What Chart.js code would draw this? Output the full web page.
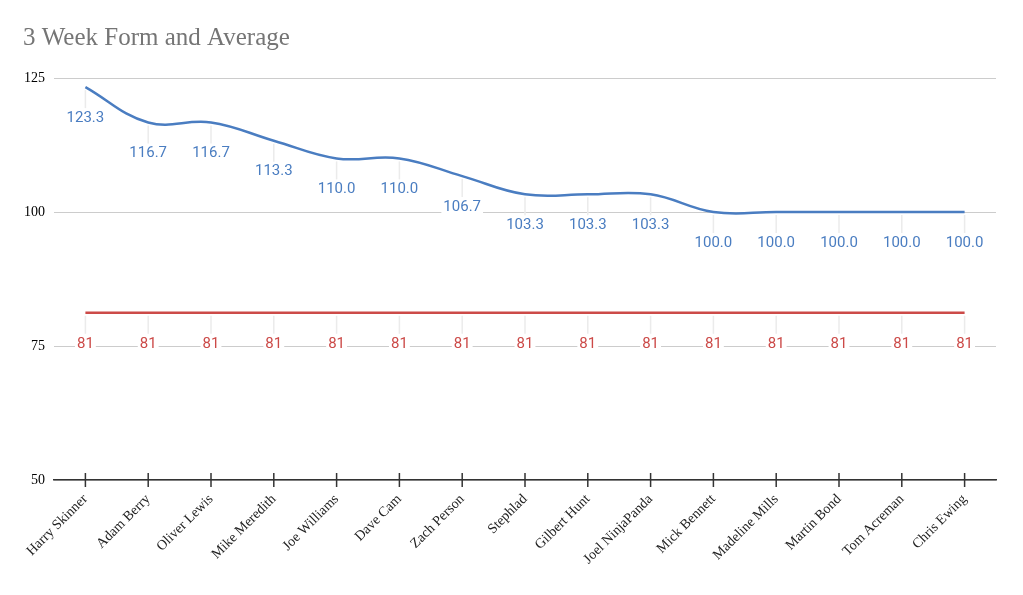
<!DOCTYPE html>
<html>
<head>
<meta charset="utf-8">
<script src="https://cdn.jsdelivr.net/npm/chart.js@4/dist/chart.umd.min.js"></script>
<style>
  html, body { margin: 0; padding: 0; background: #fff; }
  #wrap { width: 1023px; height: 595px; }
</style>
</head>
<body>
<div id="wrap"><canvas id="formChart"></canvas></div>
<script>
var players = ['Harry Skinner', 'Adam Berry', 'Oliver Lewis', 'Mike Meredith', 'Joe Williams',
  'Dave Cam', 'Zach Person', 'Stephlad', 'Gilbert Hunt', 'Joel NinjaPanda', 'Mick Bennett',
  'Madeline Mills', 'Martin Bond', 'Tom Acreman', 'Chris Ewing'];
var formValues = [123.3, 116.7, 116.7, 113.3, 110.0, 110.0, 106.7, 103.3, 103.3, 103.3,
  100.0, 100.0, 100.0, 100.0, 100.0];
var averageValues = [81.2, 81.2, 81.2, 81.2, 81.2, 81.2, 81.2, 81.2, 81.2, 81.2,
  81.2, 81.2, 81.2, 81.2, 81.2];
var yTicks = [50, 75, 100, 125];

var blue = '#4a7dc1';
var red = '#cc4a48';

// labels under each point with a short leader line, like the sheets export
var pointLabels = {
  id: 'pointLabels',
  afterDatasetsDraw: function(chart) {
    var ctx = chart.ctx;
    ctx.save();
    ctx.font = '15px Roboto';
    ctx.textAlign = 'center';
    ctx.textBaseline = 'middle';
    chart.data.datasets.forEach(function(ds, i) {
      var meta = chart.getDatasetMeta(i);
      meta.data.forEach(function(pt, j) {
        var txt = ds.labelFormat(ds.data[j]);
        ctx.strokeStyle = '#ebebeb';
        ctx.lineWidth = 1.5;
        ctx.beginPath();
        ctx.moveTo(pt.x, pt.y + 3);
        ctx.lineTo(pt.x, pt.y + 21);
        ctx.stroke();
        var w = ctx.measureText(txt).width;
        ctx.fillStyle = '#fff';
        ctx.fillRect(pt.x - w / 2 - 2, pt.y + 23, w + 4, 17);
        ctx.fillStyle = ds.borderColor;
        ctx.fillText(txt, pt.x, pt.y + 31);
      });
    });
    ctx.restore();
  }
};

// tick marks crossing the x axis line
var crossTicks = {
  id: 'crossTicks',
  afterDraw: function(chart) {
    var ctx = chart.ctx;
    var x = chart.scales.x;
    var y0 = chart.scales.y.getPixelForValue(50);
    ctx.save();
    ctx.strokeStyle = '#333';
    ctx.lineWidth = 1.5;
    for (var i = 0; i < players.length; i++) {
      var px = x.getPixelForValue(i);
      ctx.beginPath();
      ctx.moveTo(px, y0 - 7);
      ctx.lineTo(px, y0 + 7);
      ctx.stroke();
    }
    ctx.restore();
  }
};

var ctx = document.getElementById('formChart').getContext('2d');
new Chart(ctx, {
  type: 'line',
  data: {
    labels: players,
    datasets: [{
      label: '3 Week Form',
      data: formValues,
      borderColor: blue,
      borderWidth: 2.5,
      pointRadius: 0,
      tension: 0.4,
      labelFormat: function(v) { return v.toFixed(1); }
    }, {
      label: 'Average',
      data: averageValues,
      borderColor: red,
      borderWidth: 2.5,
      pointRadius: 0,
      tension: 0,
      labelFormat: function(v) { return Math.round(v).toString(); }
    }]
  },
  plugins: [pointLabels, crossTicks],
  options: {
    responsive: true,
    maintainAspectRatio: false,
    animation: false,
    layout: { padding: { left: 23, right: 27, top: 0, bottom: 0 } },
    plugins: {
      legend: { display: false },
      tooltip: { enabled: false },
      title: {
        display: true,
        text: '3 Week Form and Average',
        align: 'start',
        color: '#757575',
        font: { family: 'Liberation Serif', size: 25, weight: 'normal' },
        padding: { top: 23, bottom: 25 }
      }
    },
    scales: {
      x: {
        offset: true,
        grid: { display: false, offset: false },
        border: { display: true, color: '#333', width: 1.5 },
        ticks: {
          color: '#222',
          font: { family: 'Liberation Serif', size: 14 },
          maxRotation: 45,
          minRotation: 45,
          autoSkip: false,
          padding: 3
        },
        afterFit: function(scale) { scale.height = 115; }
      },
      y: {
        min: 50,
        max: 125,
        afterBuildTicks: function(scale) {
          scale.ticks = yTicks.map(function(v) { return { value: v }; });
        },
        grid: { color: '#cccccc', lineWidth: 1, drawTicks: false },
        border: { display: false },
        ticks: {
          color: '#000',
          font: { family: 'Liberation Serif', size: 14 },
          padding: 9
        },
        afterFit: function(scale) { scale.width = 31; }
      }
    }
  }
});
</script>
</body>
</html>
